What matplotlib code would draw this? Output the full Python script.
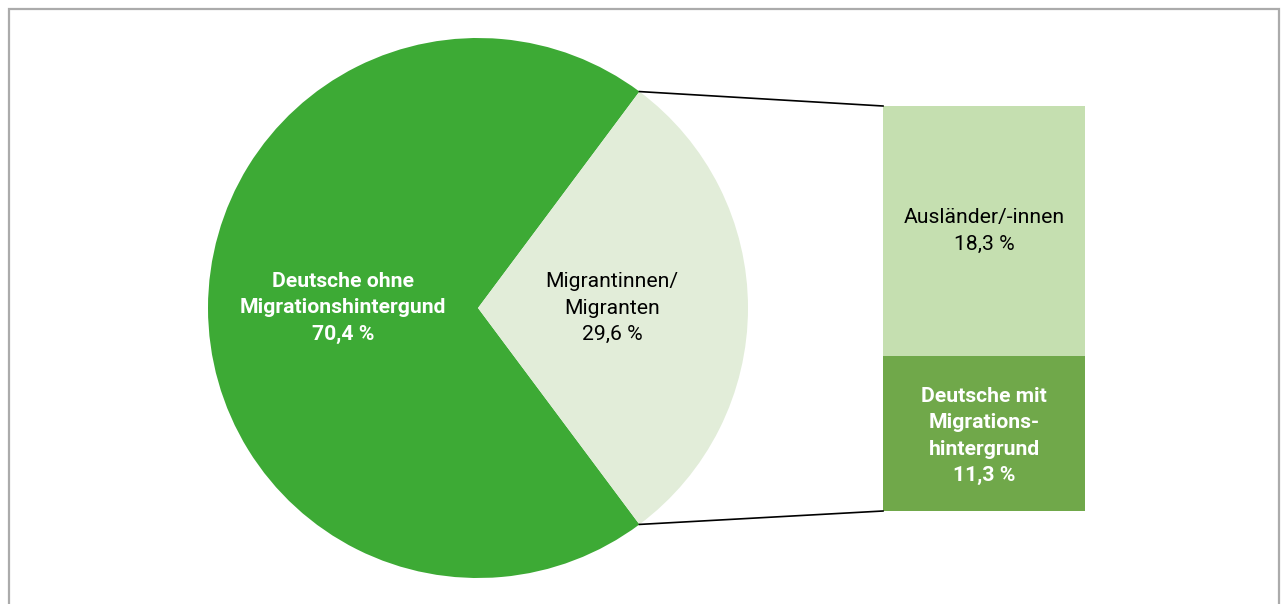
import numpy as np
import matplotlib
matplotlib.use("Agg")
import matplotlib.pyplot as plt

plt.rcParams['font.family'] = ['Roboto', 'DejaVu Sans']

# data
pie_labels = ["Deutsche ohne\nMigrationshintergund\n70,4 %", "Migrantinnen/\nMigranten\n29,6 %"]
pie_values = [70.4, 29.6]
bar_labels = ["Deutsche mit\nMigrations-\nhintergrund\n11,3 %", "Ausländer/-innen\n18,3 %"]
bar_values = [11.3, 18.3]

pie_colors = ["#3DAA35", "#E2EDD9"]
bar_colors = ["#70A84A", "#C5DFB0"]

W, H = 1287, 604
fig = plt.figure(figsize=(W / 100, H / 100), dpi=100)
ax = fig.add_axes([0, 0, 1, 1])

# pie (pixel coords, y up)
cx, cy, r = 478, H - 308, 270
half = pie_values[1] / sum(pie_values) * 360 / 2
wedges, _ = ax.pie(pie_values, colors=pie_colors, startangle=half, counterclock=True,
                   center=(cx, cy), radius=r, frame=False,
                   wedgeprops=dict(linewidth=0))

fs = 15.2
ls = 1.5
ax.text(343, H - 308, pie_labels[0], ha='center', va='center', color='white',
        fontsize=fs, fontweight='bold', linespacing=ls)
ax.text(612, H - 308, pie_labels[1], ha='center', va='center', color='black',
        fontsize=fs, linespacing=ls)

# stacked bar
bx, bw = 984, 202
btop, bbot = H - 106, H - 511
total_h = btop - bbot
scale = total_h / sum(bar_values)
bottom = bbot
for v, c in zip(bar_values, bar_colors):
    ax.bar(bx, v * scale, width=bw, bottom=bottom, color=c, linewidth=0)
    bottom += v * scale

ax.text(bx, H - 436, bar_labels[0], ha='center', va='center', color='white',
        fontsize=fs, fontweight='bold', linespacing=ls)
ax.text(bx, H - 231, bar_labels[1], ha='center', va='center', color='black',
        fontsize=fs, linespacing=ls)

# connector lines
a = np.deg2rad(half)
px, py = cx + r * np.cos(a), cy + r * np.sin(a)
ax.plot([px, bx - bw / 2], [py, btop], color='black', lw=1.2)
ax.plot([px, bx - bw / 2], [2 * cy - py, bbot], color='black', lw=1.2)

# frame
ax.plot([8.5, 8.5, 1279, 1279], [-5, H - 8.5, H - 8.5, -5], color='#ABABAB', lw=1.6,
        solid_joinstyle='miter')

ax.set_xlim(0, W)
ax.set_ylim(0, H)
ax.set_aspect('auto')
ax.axis('off')

fig.savefig("out.png", dpi=100)
